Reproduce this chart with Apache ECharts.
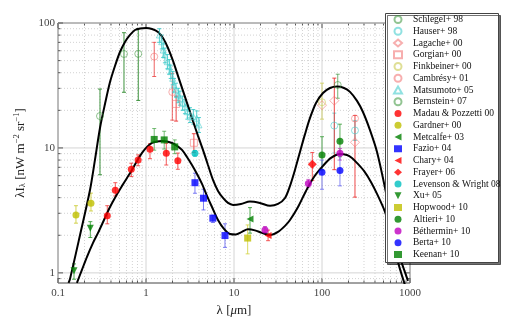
<!DOCTYPE html>
<html>
<head>
<meta charset="utf-8">
<script src="https://cdn.jsdelivr.net/npm/echarts@6.0.0/dist/echarts.min.js"></script>
<style>
  html, body { margin: 0; padding: 0; background: #fff; }
  #chart { width: 510px; height: 322px; }
</style>
</head>
<body>
<div id="chart"></div>
<script>
// axis limits and tick values (microns / nW m^-2 sr^-1)
const X_MIN = 0.1, X_MAX = 1000
const Y_MIN = 0.83, Y_MAX = 100
const xMajor = [0.1, 1, 10, 100, 1000]
const xMinor = [0.2, 0.3, 0.4, 0.5, 0.6, 0.7, 0.8, 0.9, 2, 3, 4, 5, 6, 7, 8, 9,
  20, 30, 40, 50, 60, 70, 80, 90, 200, 300, 400, 500, 600, 700, 800, 900]
const yMajor = [1, 10, 100]
const yMinor = [0.9, 2, 3, 4, 5, 6, 7, 8, 9, 20, 30, 40, 50, 60, 70, 80, 90]

// model curves
const upperLam = [0.1316, 0.1369, 0.178, 0.231, 0.263, 0.300, 0.342, 0.390, 0.444, 0.506, 0.577, 0.658,
  0.750, 0.855, 1.0, 1.17, 1.368, 1.56, 1.778, 2.028, 2.31, 2.634, 3.0, 3.42, 3.90, 4.44, 5.06, 5.77,
  6.58, 7.50, 8.55, 9.75, 12.0, 15.2, 19.7, 25.7, 31.6, 38.0, 43.3, 49.3, 56.2, 64.1, 73.1, 85.5,
  102.6, 123.3, 148, 177.8, 208, 250, 292, 351, 422, 520, 593, 711, 877]
const upperVal = [0.832, 0.895, 2.01, 4.61, 8.02, 14.45, 22.5, 33.7, 45.3, 58.6, 70.5, 80.2,
  87.9, 90.4, 91.2, 89.5, 84.7, 75.9, 63.1, 49.7, 37.7, 28.6, 21.7, 16.4, 12.5, 9.64, 7.31, 5.55,
  4.53, 3.98, 3.63, 3.50, 3.56, 3.73, 3.63, 3.44, 3.56, 3.98, 4.97, 6.67, 9.29, 12.9, 17.4, 22.9,
  27.5, 30.2, 31.0, 30.2, 28.1, 23.8, 19.4, 13.9, 9.29, 4.79, 2.91, 1.32, 0.80]
const lowerLam = [0.164, 0.187, 0.2135, 0.250, 0.285, 0.333, 0.390, 0.456, 0.534, 0.608, 0.693, 0.790,
  0.901, 1.027, 1.17, 1.334, 1.52, 1.732, 1.975, 2.25, 2.565, 2.92, 3.33, 3.80, 4.33, 4.93, 5.62,
  6.58, 7.69, 9.01, 10.5, 12.3, 14.4, 17.3, 20.8, 25.7, 31.6, 38.0, 43.3, 53.4, 65.8, 81.1, 102.6,
  126.5, 160, 192, 219, 256, 300, 360, 422, 520, 624, 769, 949]
const lowerVal = [0.832, 1.057, 1.343, 1.738, 2.09, 2.65, 3.37, 4.13, 4.97, 5.75, 6.67, 7.87,
  9.12, 10.2, 10.96, 11.27, 11.38, 11.27, 10.96, 10.4, 9.64, 8.47, 7.31, 6.19, 5.15, 4.13, 3.37,
  2.65, 2.25, 2.05, 2.03, 2.13, 2.23, 2.19, 2.09, 2.01, 2.13, 2.38, 2.65, 3.37, 4.53, 5.86, 7.18,
  8.32, 8.95, 8.79, 8.32, 7.45, 6.55, 5.35, 4.29, 3.08, 2.01, 1.32, 0.863]

// measurements: [lambda, value, errLow, errHigh]
const schlegel = [[151, 31.9, 25, 38.9]]
const hauser = [[138, 15.1, 9.1, 19], [237, 13.8, 11.5, 16.5]]
const lagache = [[100, 22, null, null], [138, 23.9, 6.7, 36.2], [237, 11.1, 4.04, 18.2]]
const gorgian = [[2.2, 22.5, 16.4, 26], [3.5, 11.0, 9.2, 13]]
const finkbeiner = [[100, 23.2, 17, 33]]
const cambresy = [[1.24, 53.8, 37.3, 70], [1.99, 28, 16.7, 39.6], [237, 17.2, null, null]]
const matsumoto = [[1.42, 80.2, 70, 90], [1.51, 70.8, 62, 80], [1.57, 60.8, 53, 69], [1.64, 55.5, 48, 63],
  [1.75, 49.0, 43, 56], [1.84, 44.7, 39, 51], [1.91, 40.8, 36, 46], [2.01, 36.1, 32, 41],
  [2.08, 31.9, 28, 36], [2.19, 29.1, 25.5, 33], [2.33, 26.5, 23, 30], [2.43, 25.0, 22, 28.5],
  [2.61, 22.8, 20, 26], [2.77, 21.4, 18.8, 24.3], [2.95, 19.5, 17, 22], [3.16, 18.4, 16, 21],
  [3.45, 17.8, 15.5, 20.3], [3.77, 17.3, 15, 19.8], [4.0, 15.3, 13.3, 17.5]]
const bernstein = [[0.30, 18, 6.1, 29.6], [0.562, 56.5, 27.9, 83.6], [0.817, 56.7, 24, 90]]
const madau = [[0.363, 2.86, 2.47, 3.45], [0.448, 4.59, 4.13, 5.27], [0.681, 6.75, 5.9, 7.55],
  [0.814, 8.0, 7.2, 8.8], [1.11, 9.77, 8.2, 10.8], [1.70, 9.07, 7.3, 10.9], [2.3, 7.9, 6.75, 9.1]]
const gardner = [[0.16, 2.91, 2.5, 3.45], [0.237, 3.61, 3.13, 4.35]]
const metcalfe = [[15.2, 2.7, 2.08, 3.33]]
const fazio = [[3.6, 5.27, 4.34, 6.28], [4.5, 3.96, 3.19, 4.67], [5.75, 2.74, 2.53, 2.9], [7.9, 1.99, 1.6, 2.47]]
const chary = [[24.4, 1.99, 1.81, 2.2]]
const frayer = [[77.6, 7.4, 5.5, 9.2]]
const levenson = [[3.6, 9.07, 8.6, 9.5]]
const xu = [[0.152, 1.04, 0.89, 1.18], [0.233, 2.28, 1.92, 2.57]]
const hopwood = [[14.3, 1.9, 1.42, 2.42]]
const altieri = [[100, 8.8, 6.65, 12.3], [160, 11.3, 8.5, 15.5]]
const bethermin = [[22.5, 2.2, 2.1, 2.35], [70, 5.2, 4.85, 5.6], [160, 9.07, 8.0, 9.9]]
const berta = [[100, 6.4, 4.67, 8.0], [160, 6.6, 4.97, 8.8]]
const keenan = [[1.24, 11.7, 9.6, 14.3], [1.61, 11.6, 9.8, 13.6], [2.12, 10.2, 9.0, 11.6]]

const serif = '"Liberation Serif", "DejaVu Serif", serif'
const triLeft = 'path://M0,5L10,0L10,10Z'
const triDown = 'path://M0,0L10,0L5,10Z'

function errBar(params, api) {
  const x = api.value(0)
  const lo = api.coord([x, api.value(1)])
  const hi = api.coord([x, api.value(2)])
  const st = { stroke: api.visual('color'), lineWidth: 1 }
  return {
    type: 'group',
    children: [
      { type: 'line', shape: { x1: lo[0], y1: lo[1], x2: hi[0], y2: hi[1] }, style: st },
      { type: 'line', shape: { x1: lo[0] - 2, y1: lo[1], x2: lo[0] + 2, y2: lo[1] }, style: st },
      { type: 'line', shape: { x1: hi[0] - 2, y1: hi[1], x2: hi[0] + 2, y2: hi[1] }, style: st }
    ]
  }
}

function marks(name, rows, symbol, color, opt) {
  opt = opt || {}
  return [{
    name: name,
    type: 'scatter',
    symbol: symbol,
    symbolSize: opt.size || 7,
    z: 5,
    itemStyle: opt.open
      ? { color: 'rgba(255,255,255,0)', borderColor: color, borderWidth: 1 }
      : { color: color },
    data: rows.map(r => [r[0], r[1]])
  }, {
    name: name + ' err',
    type: 'custom',
    z: 3,
    silent: true,
    itemStyle: { color: opt.err || color },
    data: rows.filter(r => r[2] != null).map(r => [r[0], r[2], r[3]]),
    renderItem: errBar
  }]
}

// grid lines + inward ticks on all four sides
function gridLines(vals, dir, major) {
  return {
    type: 'custom',
    silent: true,
    z: 1,
    data: vals.map(v => dir === 'x' ? [v, Y_MIN] : [X_MIN, v]),
    renderItem: function (params, api) {
      const v = api.value(dir === 'x' ? 0 : 1)
      const a = dir === 'x' ? api.coord([v, Y_MIN]) : api.coord([X_MIN, v])
      const b = dir === 'x' ? api.coord([v, Y_MAX]) : api.coord([X_MAX, v])
      const len = major ? 5 : 2.5
      const dx = dir === 'x' ? 0 : len
      const dy = dir === 'x' ? -len : 0
      const tick = { stroke: '#555', lineWidth: 1 }
      return {
        type: 'group',
        children: [
          { type: 'line', shape: { x1: a[0], y1: a[1], x2: b[0], y2: b[1] },
            style: { stroke: major ? '#d4d4d4' : '#d2d2d2', lineWidth: 1, lineDash: major ? null : [1, 2] } },
          { type: 'line', shape: { x1: a[0], y1: a[1], x2: a[0] + dx, y2: a[1] + dy }, style: tick },
          { type: 'line', shape: { x1: b[0], y1: b[1], x2: b[0] - dx, y2: b[1] - dy }, style: tick }
        ]
      }
    }
  }
}

function decadeLabel(v) {
  const e = Math.log10(v)
  return Math.abs(e - Math.round(e)) < 1e-6 ? String(+v.toPrecision(3)) : ''
}

const green0 = 'rgba(60,150,60,0.7)'
const cyan0 = 'rgba(70,205,205,0.75)'
const pink0 = 'rgba(240,110,110,0.7)'
const yellow0 = 'rgba(205,205,90,0.8)'

const groups = [
  marks('Schlegel+ 98', schlegel, 'circle', green0, { open: true }),
  marks('Hauser+ 98', hauser, 'circle', cyan0, { open: true }),
  marks('Lagache+ 00', lagache, 'diamond', pink0, { open: true, size: 9, err: 'rgba(235,40,40,0.85)' }),
  marks('Gorgian+ 00', gorgian, 'rect', pink0, { open: true, err: 'rgba(235,40,40,0.85)' }),
  marks('Finkbeiner+ 00', finkbeiner, 'circle', yellow0, { open: true }),
  marks('Cambrésy+ 01', cambresy, 'circle', pink0, { open: true, err: 'rgba(235,60,60,0.8)' }),
  marks('Matsumoto+ 05', matsumoto, 'triangle', cyan0, { open: true, size: 6, err: 'rgba(40,195,195,0.8)' }),
  marks('Bernstein+ 07', bernstein, 'circle', green0, { open: true, err: '#3f933f' }),
  marks('Madau & Pozzetti 00', madau, 'circle', '#ff0000', { err: 'rgba(240,50,50,0.8)' }),
  marks('Gardner+ 00', gardner, 'circle', '#bfbf00', { err: 'rgba(200,200,40,0.8)' }),
  marks('Metcalfe+ 03', metcalfe, triLeft, '#008000', { err: 'rgba(40,150,40,0.8)' }),
  marks('Fazio+ 04', fazio, 'rect', '#0000ff', { err: 'rgba(80,80,240,0.75)' }),
  marks('Chary+ 04', chary, triLeft, '#ff0000', { err: 'rgba(240,50,50,0.8)' }),
  marks('Frayer+ 06', frayer, 'diamond', '#ff0000', { size: 9, err: 'rgba(240,50,50,0.8)' }),
  marks('Levenson & Wright 08', levenson, 'circle', '#00bfbf', { err: 'rgba(0,190,190,0.8)' }),
  marks('Xu+ 05', xu, triDown, '#008000', { err: 'rgba(40,150,40,0.8)' }),
  marks('Hopwood+ 10', hopwood, 'rect', '#bfbf00', { err: 'rgba(210,210,60,0.8)' }),
  marks('Altieri+ 10', altieri, 'circle', '#008000', { err: 'rgba(40,150,40,0.75)' }),
  marks('Béthermin+ 10', bethermin, 'circle', '#bf00bf', { err: 'rgba(190,60,190,0.75)' }),
  marks('Berta+ 10', berta, 'circle', '#0000ff', { err: 'rgba(90,90,240,0.7)' }),
  marks('Keenan+ 10', keenan, 'rect', '#008000', { err: 'rgba(60,160,60,0.7)' })
]

let series = [
  gridLines(xMajor, 'x', true), gridLines(xMinor, 'x', false),
  gridLines(yMajor, 'y', true), gridLines(yMinor, 'y', false)
]
groups.forEach(g => { series = series.concat(g) })
series.push({
  type: 'line', silent: true, z: 4, showSymbol: false, smooth: 0.3,
  lineStyle: { color: '#000', width: 2 },
  data: upperLam.map((l, i) => [l, upperVal[i]])
}, {
  type: 'line', silent: true, z: 4, showSymbol: false, smooth: 0.3,
  lineStyle: { color: '#000', width: 2 },
  data: lowerLam.map((l, i) => [l, lowerVal[i]])
})

const chart = echarts.init(document.getElementById('chart'))
chart.setOption({
  animation: false,
  backgroundColor: '#fff',
  grid: { left: 58, top: 23, right: 100, bottom: 39, show: true, borderColor: '#444', borderWidth: 1, backgroundColor: 'transparent' },
  xAxis: {
    type: 'log', logBase: 10, min: X_MIN, max: X_MAX,
    axisLine: { show: false }, axisTick: { show: false }, splitLine: { show: false },
    axisLabel: { formatter: decadeLabel, fontFamily: serif, fontSize: 11, color: '#444', margin: 5 },
    name: 'λ [{it|μ}m]', nameLocation: 'middle', nameGap: 12,
    nameTextStyle: { fontFamily: serif, fontSize: 13, color: '#222', rich: { it: { fontFamily: serif, fontSize: 13, fontStyle: 'italic', color: '#222' } } }
  },
  yAxis: {
    type: 'log', logBase: 10, min: Y_MIN, max: Y_MAX,
    axisLine: { show: false }, axisTick: { show: false }, splitLine: { show: false },
    axisLabel: { formatter: decadeLabel, fontFamily: serif, fontSize: 11, color: '#444', margin: 3, showMinLabel: false },
    name: 'λI{sub|λ} [nW m{sup|−2} sr{sup|−1}]', nameLocation: 'middle', nameGap: 21,
    nameTextStyle: {
      fontFamily: serif, fontSize: 13, color: '#222',
      rich: {
        sub: { fontFamily: serif, fontSize: 8.5, color: '#222', verticalAlign: 'bottom', lineHeight: 15 },
        sup: { fontFamily: serif, fontSize: 8.5, color: '#222', verticalAlign: 'top', lineHeight: 15 }
      }
    }
  },
  graphic: [{
    type: 'rect', z: 10, silent: true,
    shape: { x: 385.5, y: 13.5, width: 113, height: 249 },
    style: { fill: '#fff', stroke: '#444', lineWidth: 1, shadowColor: 'rgba(0,0,0,0.55)', shadowOffsetX: 2, shadowOffsetY: 2, shadowBlur: 0 }
  }],
  legend: {
    z: 20, orient: 'vertical', left: 393, top: 14.5, padding: 0,
    itemWidth: 8, itemHeight: 7, itemGap: 1.75,
    textStyle: { fontFamily: serif, fontSize: 9.5, color: '#111', lineHeight: 10, padding: [0, 0, 0, 6] },
    data: groups.map(g => g[0].name)
  },
  series: series
})
</script>
</body>
</html>
